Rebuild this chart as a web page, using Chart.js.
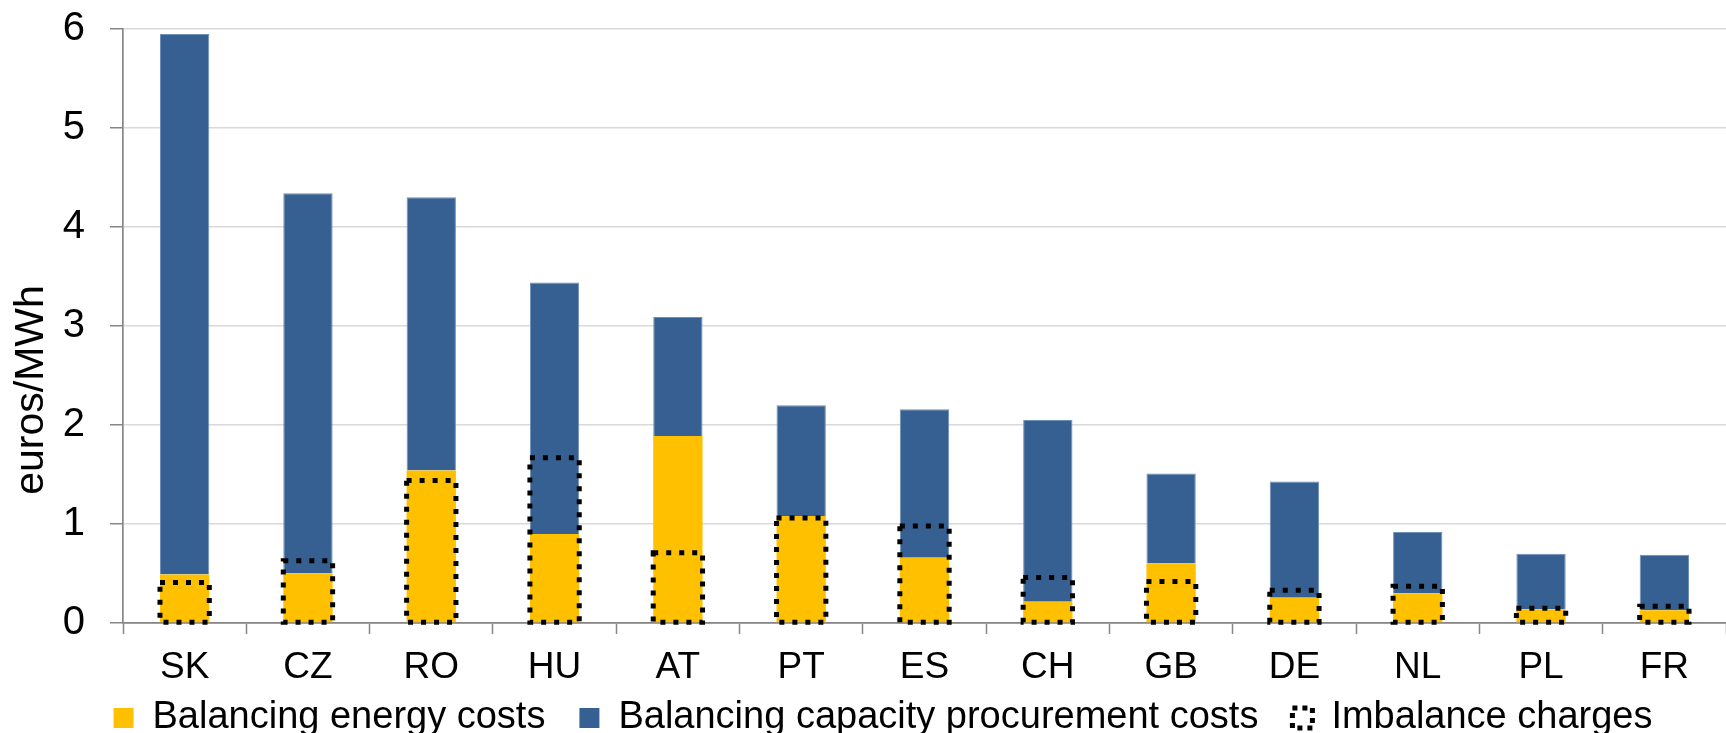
<!DOCTYPE html>
<html lang="en">
<head>
    <meta charset="UTF-8">
    <title>Balancing costs per country</title>
    <script src="https://cdn.jsdelivr.net/npm/chart.js"></script>
    <style>
        body { margin: 0; background: #fff; }
        #wrap { width: 1726px; height: 733px; position: relative; }
    </style>
</head>
<body>
    <div id="wrap"><canvas id="costChart"></canvas></div>
    <script>
        // values, euros/MWh
        const countries = ['SK', 'CZ', 'RO', 'HU', 'AT', 'PT', 'ES', 'CH', 'GB', 'DE', 'NL', 'PL', 'FR'];
        const energyCosts = [0.49, 0.50, 1.54, 0.90, 1.89, 1.08, 0.66, 0.215, 0.60, 0.255, 0.30, 0.14, 0.13];
        const capacityCosts = [5.46, 3.84, 2.76, 2.54, 1.20, 1.12, 1.50, 1.835, 0.91, 1.175, 0.62, 0.56, 0.56];
        const imbalanceCharges = [0.41, 0.63, 1.44, 1.67, 0.71, 1.06, 0.98, 0.46, 0.42, 0.33, 0.37, 0.15, 0.17];
        const yTicks = [0, 1, 2, 3, 4, 5, 6];
        const yTitle = 'euros/MWh';

        const FONT = '"Liberation Sans", Arial, sans-serif';

        // bars can't take a dash, so outline the imbalance bars ourselves
        const dottedBoxes = {
            id: 'dottedBoxes',
            afterDatasetsDraw(chart) {
                const meta = chart.getDatasetMeta(2);
                if (meta.hidden) return;
                const ctx = chart.ctx;
                ctx.save();
                ctx.strokeStyle = '#000';
                ctx.lineWidth = 5;
                ctx.setLineDash([5, 8]);
                meta.data.forEach(bar => {
                    const p = bar.getProps(['x', 'y', 'base', 'width'], true);
                    ctx.strokeRect(p.x - p.width / 2, p.y, p.width, p.base - p.y);
                });
                ctx.restore();
            }
        };

        // axis title sits lower than the plot centre in the original
        const yTitlePlugin = {
            id: 'yTitle',
            afterDraw(chart) {
                const ctx = chart.ctx;
                const area = chart.chartArea;
                ctx.save();
                ctx.translate(32, (area.top + area.bottom) / 2 + 64);
                ctx.rotate(-Math.PI / 2);
                ctx.font = '41px ' + FONT;
                ctx.fillStyle = '#000';
                ctx.textAlign = 'center';
                ctx.textBaseline = 'middle';
                ctx.fillText(yTitle, 0, 0);
                ctx.restore();
            }
        };

        // country labels run into the legend's top padding, don't clip them
        const unclipXLabels = {
            id: 'unclipXLabels',
            afterLayout(chart) {
                chart.scales.x.bottom = chart.height;
            }
        };

        const ctx = document.getElementById('costChart').getContext('2d');
        new Chart(ctx, {
            type: 'bar',
            data: {
                labels: countries,
                datasets: [{
                    label: 'Balancing energy costs',
                    data: energyCosts,
                    backgroundColor: '#FFC000',
                    borderWidth: 0,
                    stack: 'costs'
                }, {
                    label: 'Balancing capacity procurement costs',
                    data: capacityCosts,
                    backgroundColor: '#376092',
                    borderColor: '#6f8fb8',
                    borderWidth: 1,
                    stack: 'costs'
                }, {
                    label: 'Imbalance charges',
                    data: imbalanceCharges,
                    backgroundColor: 'rgba(0,0,0,0)',
                    borderWidth: 0,
                    stack: 'imbalance',
                    grouped: false
                }]
            },
            options: {
                responsive: true,
                maintainAspectRatio: false,
                animation: false,
                categoryPercentage: 1,
                barPercentage: 0.4,
                layout: { padding: { top: 29, left: 40, right: 0, bottom: -14 } },
                plugins: {
                    tooltip: { enabled: false },
                    legend: {
                        position: 'bottom',
                        labels: {
                            font: { family: FONT, size: 38 },
                            color: '#000',
                            boxWidth: 20,
                            boxHeight: 20,
                            padding: 34,
                            generateLabels(chart) {
                                const items = Chart.defaults.plugins.legend.labels.generateLabels(chart);
                                items.forEach(item => { item.lineWidth = 0; });
                                items[2].fillStyle = 'rgba(0,0,0,0)';
                                items[2].strokeStyle = '#000';
                                items[2].lineWidth = 5;
                                items[2].lineDash = [5, 5];
                                return items;
                            }
                        }
                    }
                },
                scales: {
                    x: {
                        stacked: true,
                        afterFit(scale) {
                            scale.height = 42;
                            scale.paddingLeft = 0;
                            scale.paddingRight = 0;
                        },
                        border: { color: '#868686', width: 1.7 },
                        grid: {
                            drawOnChartArea: false,
                            tickLength: 11,
                            tickColor: '#868686',
                            tickWidth: 1.5
                        },
                        ticks: {
                            font: { family: FONT, size: 37 },
                            color: '#000',
                            padding: 12
                        }
                    },
                    y: {
                        stacked: true,
                        min: 0,
                        max: 6,
                        afterFit(scale) {
                            scale.width = 83;
                            scale.paddingTop = 0;
                            scale.paddingBottom = 0;
                        },
                        afterBuildTicks(scale) { scale.ticks = yTicks.map(v => ({ value: v })); },
                        border: { color: '#868686', width: 1.7 },
                        grid: {
                            color: '#d9d9d9',
                            lineWidth: 1.5,
                            tickLength: 13,
                            tickColor: '#868686',
                            tickWidth: 1.5
                        },
                        ticks: {
                            font: { family: FONT, size: 40 },
                            color: '#000',
                            padding: 25
                        }
                    }
                }
            },
            plugins: [dottedBoxes, yTitlePlugin, unclipXLabels]
        });
    </script>
</body>
</html>
